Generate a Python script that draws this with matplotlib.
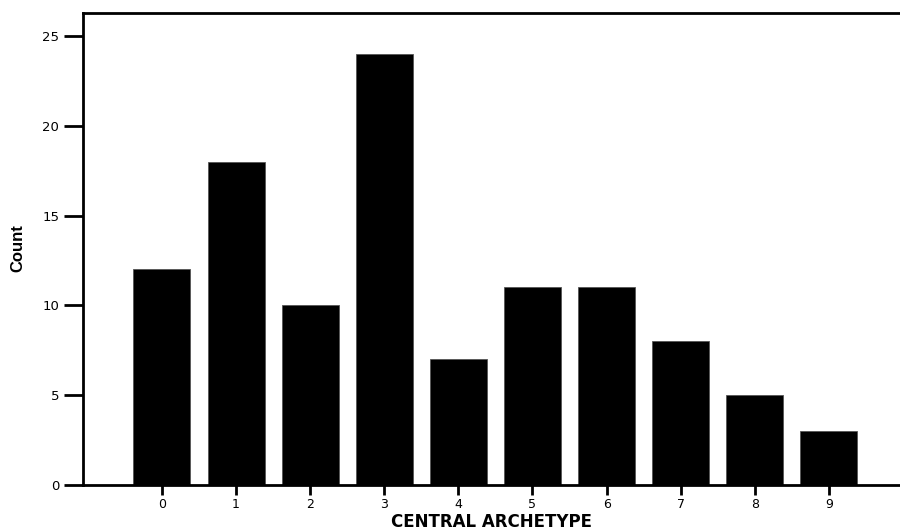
import matplotlib
matplotlib.use("Agg")
import matplotlib.pyplot as plt

categories = ["0", "1", "2", "3", "4", "5", "6", "7", "8", "9"]
counts = [12, 18, 10, 24, 7, 11, 11, 8, 5, 3]
yticks = [0, 5, 10, 15, 20, 25]

fig = plt.figure(figsize=(9, 5.31), dpi=100)
ax = fig.add_axes([0.0922, 0.0866, 0.9078, 0.8889])

x = list(range(len(categories)))
ax.bar(x, counts, width=0.77, color="black", edgecolor="#555555", linewidth=0.6, zorder=2)

ax.set_xlim(-1.066, 9.96)
ax.set_ylim(0, 26.28)
ax.set_xticks(x)
ax.set_xticklabels(categories)
ax.set_yticks(yticks)

for s in ["left", "top", "bottom"]:
    ax.spines[s].set_linewidth(2)
ax.spines["right"].set_visible(False)

ax.tick_params(axis="y", direction="out", length=14, width=2, labelsize=9.5, pad=3)
ax.tick_params(axis="x", direction="out", length=7, width=2, labelsize=9, pad=2)
for lab in ax.get_xticklabels() + ax.get_yticklabels():
    lab.set_fontfamily("DejaVu Sans")

fig.text(0.546, 0.0075, "CENTRAL ARCHETYPE", fontsize=12, fontweight="bold",
         fontfamily="DejaVu Sans", ha="center", va="baseline")
fig.text(0.02, 0.533, "Count", rotation=90, fontsize=12, fontweight="bold",
         fontfamily="Liberation Sans", ha="center", va="center")

fig.savefig("out.png", dpi=100)
